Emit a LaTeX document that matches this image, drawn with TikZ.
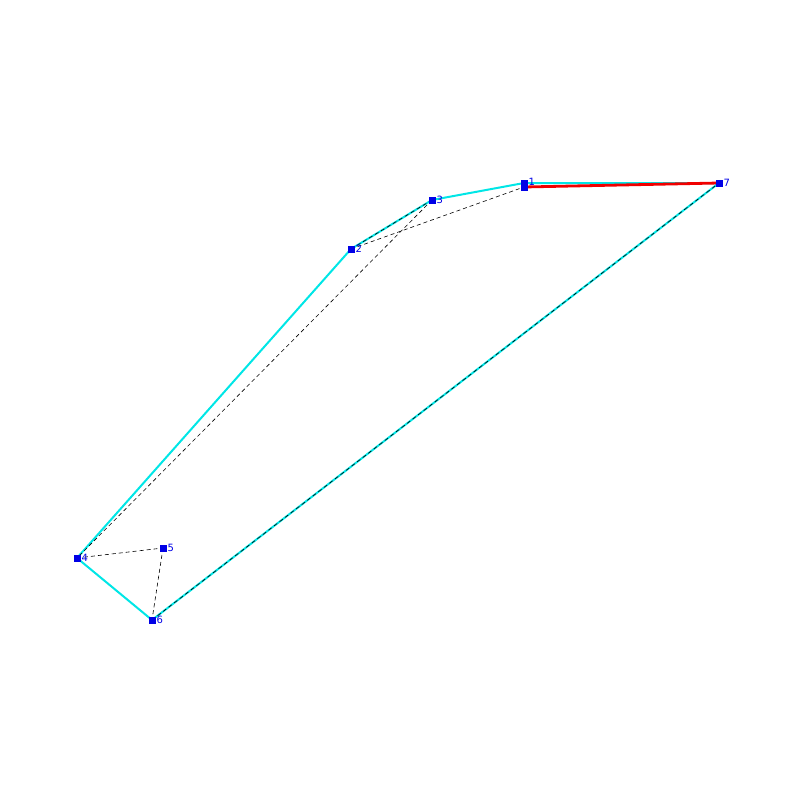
\documentclass[tikz,border=0pt]{standalone}
\usepackage{fontspec}
\setmainfont{DejaVu Sans}
\begin{document}
\begin{tikzpicture}[x=1pt,y=-1pt,
  pt/.style={fill={rgb,255:red,0;green,0;blue,230},minimum size=7pt,inner sep=0pt,outer sep=0pt},
  lbl/.style={text={rgb,255:red,0;green,0;blue,230},font=\fontsize{10}{10}\selectfont,anchor=west,inner sep=0pt},
  hull/.style={draw={rgb,255:red,0;green,230;blue,230},line width=2pt},
  redge/.style={draw={rgb,255:red,240;green,0;blue,0},line width=2.8pt},
  dedge/.style={draw=black,line width=0.6pt,dash pattern=on 4pt off 3pt}]
\useasboundingbox (0,0) rectangle (800,800);
\coordinate (p1) at (524,183);
\coordinate (p1b) at (524,187);
\coordinate (p7) at (719,183);
\coordinate (p3) at (432,200);
\coordinate (p2) at (351,249);
\coordinate (p4) at (77,558);
\coordinate (p5) at (163,548);
\coordinate (p6) at (152,620);
% hull
\draw[hull] (p1) -- (p3) -- (p2) -- (p4) -- (p6) -- (p7) -- (p1);
% red edge
\draw[redge] (p1b) -- (p7);
% dashed edges
\draw[dedge] (p2) -- (p3);
\draw[dedge] (p2) -- (p1b);
\draw[dedge] (p3) -- (p4);
\draw[dedge] (p4) -- (p5);
\draw[dedge] (p5) -- (p6);
\draw[dedge] (p6) -- (p7);
% points
\node[pt] (n1) at (p1) {};
\node[pt] (n1b) at (p1b) {};
\node[pt] (n7) at (p7) {};
\node[pt] (n3) at (p3) {};
\node[pt] (n2) at (p2) {};
\node[pt] (n4) at (p4) {};
\node[pt] (n5) at (p5) {};
\node[pt] (n6) at (p6) {};
\node[lbl] (l1) at (528.5,182) {1};
\node[lbl] (l7) at (723.5,183) {7};
\node[lbl] (l3) at (436.5,200) {3};
\node[lbl] (l2) at (355.5,249) {2};
\node[lbl] (l4) at (81.5,558) {4};
\node[lbl] (l5) at (167.5,548) {5};
\node[lbl] (l6) at (156.5,620) {6};
\end{tikzpicture}
\end{document}
